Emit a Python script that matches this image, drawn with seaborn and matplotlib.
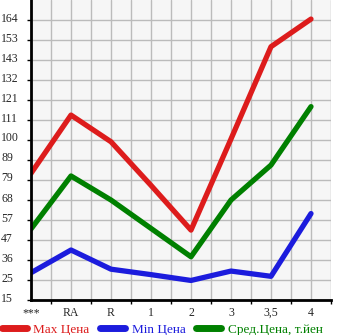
import matplotlib
matplotlib.use("Agg")
import matplotlib.pyplot as plt
import matplotlib.transforms as mtransforms
import seaborn as sns
import pandas as pd
import numpy as np

categories = ["***", "RA", "R", "1", "2", "3", "3,5", "4"]
max_price = [82.4, 113.4, 99.2, 76.0, 52.2, 100.7, 149.8, 164.5]
min_price = [29.5, 41.6, 31.4, 28.5, 25.4, 30.4, 27.6, 61.0]
avg_price = [52.8, 81.0, 68.2, 53.1, 38.0, 68.2, 86.8, 117.9]
series_names = ["Max Цена", "Min Цена", "Сред.Цена, т.йен"]
colors = ["#dd1c1c", "#1c1cdd", "#008000"]
ytick_labels = ["15", "25", "36", "47", "57", "68", "79", "89", "100",
                "111", "121", "132", "143", "153", "164"]
y_min, y_max = 15, 164

rows = []
for name, vals in zip(series_names, [max_price, min_price, avg_price]):
    for i, v in enumerate(vals):
        rows.append({"pos": i, "value": v, "series": name})
df = pd.DataFrame(rows)

sns.set_style("white")
plt.rcParams["font.family"] = ["Liberation Serif", "DejaVu Serif"]

fig = plt.figure(figsize=(3.45, 3.35), dpi=100)
ax = fig.add_axes([31 / 345, 35 / 335, 300 / 345, 300 / 335])
ax.set_facecolor("#f6f6f6")

sns.lineplot(data=df, x="pos", y="value", hue="series", hue_order=series_names,
             palette=colors, sort=False, linewidth=3.8, ax=ax, legend=False)
for ln in ax.lines:
    ln.set_solid_capstyle("round")
    ln.set_solid_joinstyle("round")

step = (y_max - y_min) / (len(ytick_labels) - 1)
yticks = [y_min + i * step for i in range(len(ytick_labels))]
ax.set_ylim(y_min, y_min + len(ytick_labels) * step)
ax.set_xlim(0, len(categories) - 0.5)

ax.set_yticks(yticks)
ax.set_yticklabels(ytick_labels, ha="left")
ax.set_xticks(range(len(categories)))
ax.set_xticklabels(categories)
ax.set_xticks(np.arange(0.5, len(categories), 1.0), minor=True)

ax.tick_params(axis="y", which="major", length=3, width=1, color="black",
               pad=18.5, labelsize=8.5, direction="out", left=True)
ax.tick_params(axis="x", which="major", length=0, pad=5, labelsize=8.5)
ax.tick_params(axis="x", which="minor", length=3, width=1, color="black",
               direction="out", bottom=True)

ax.grid(True, which="both", color="#bbbbbb", linewidth=1)
ax.set_axisbelow(True)
for s in ["top", "right"]:
    ax.spines[s].set_visible(False)
for s in ["left", "bottom"]:
    ax.spines[s].set_color("black")
    ax.spines[s].set_linewidth(2)
ax.set_xlabel("")
ax.set_ylabel("")

off = mtransforms.ScaledTranslation(0, 3 / 100, fig.dpi_scale_trans)
for t in ax.yaxis.get_major_ticks():
    t.label1.set_transform(t.label1.get_transform() + off)

handles = [plt.Line2D([], [], color=c, linewidth=5, solid_capstyle="round")
           for c in colors]
leg = fig.legend(handles, series_names, loc="lower center", ncol=3,
                 bbox_to_anchor=(0.47, -0.03), frameon=False, fontsize=9.5,
                 handlelength=1.9, handletextpad=0.5, columnspacing=0.8,
                 borderpad=0.2)
for txt, c in zip(leg.get_texts(), colors):
    txt.set_color(c)

fig.savefig("out.png", dpi=100)
